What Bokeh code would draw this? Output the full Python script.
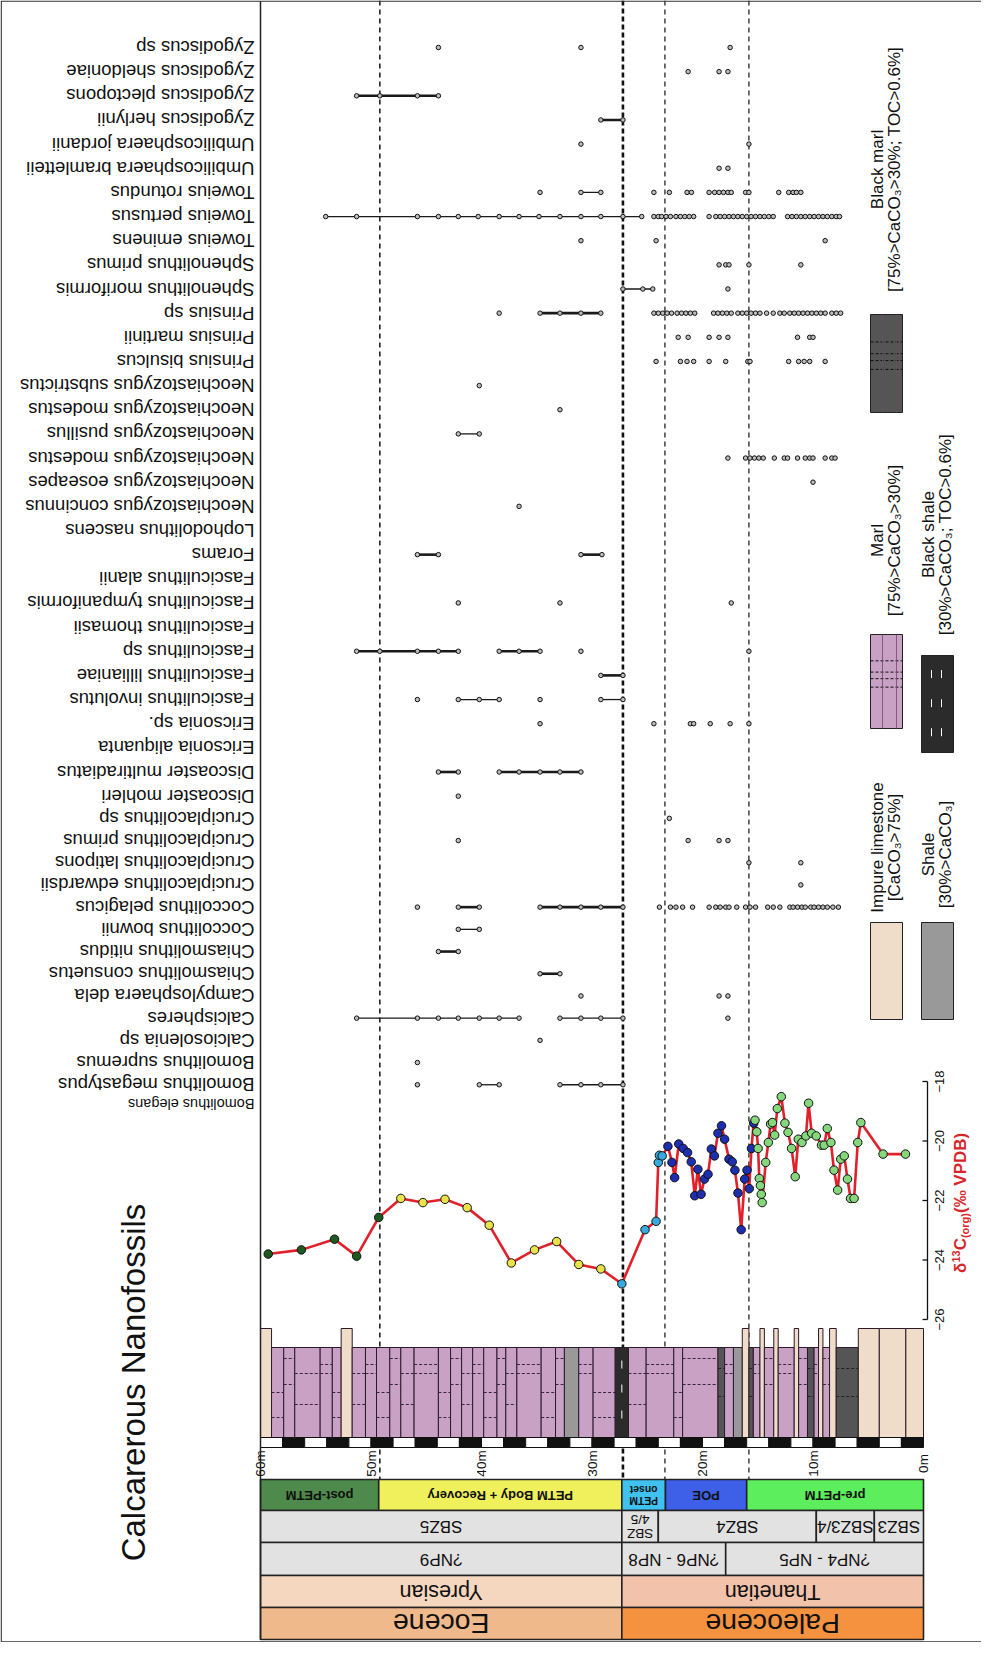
import numpy as np
from bokeh.plotting import figure
from bokeh.models import Range1d
from bokeh.core.properties import value
from bokeh.embed import file_html
from bokeh.resources import INLINE

# ---------------- DATA ----------------
SPECIES = ["Zygodiscus sp", "Zygodiscus sheldoniae", "Zygodiscus plectopons", "Zygodiscus herlynii",
           "Umbilicosphaera jordanii", "Umbilicosphaera bramletteii", "Toweius rotundus", "Toweius pertusus",
           "Toweius eminens", "Sphenolithus primus", "Sphenolithus moriformis", "Prinsius sp",
           "Prinsius martinii", "Prinsius bisulcus", "Neochiastozygus substrictus", "Neochiastozygus modestus",
           "Neochiastozygus pusillus", "Neochiastozygus modestus", "Neochiastozygus eoseapes",
           "Neochiastozygus concinnus", "Lophodolithus nascens", "Forams", "Fasciculithus alanii",
           "Fasciculithus tympaniformis", "Fasciculithus thomasii", "Fasciculithus sp",
           "Fasciculithus lillianiae", "Fasciculithus involutus", "Ericsonia sp.", "Ericsonia aliquanta",
           "Discoaster multiradiatus", "Discoaster mohleri", "Cruciplacolithus sp", "Cruciplacolithus primus",
           "Cruciplacolithus latipons", "Cruciplacolithus edwardsii", "Coccolithus pelagicus",
           "Coccolithus bownii", "Chiasmolithus nitidus", "Chiasmolithus consuetus", "Campylosphaera dela",
           "Calcispheres", "Calciosolenia sp", "Bomolithus supremus", "Bomolithus megastypus",
           "Bomolithus elegans"]

# occurrences: runs of consecutive samples (depth, m)
zygodiscus_sp = [[43.9], [31.0], [17.5]]
zygodiscus_sheldoniae = [[21.3], [18.5], [17.7]]
zygodiscus_plectopons = [[51.3, 49.2, 45.8, 43.9]]
zygodiscus_herlynii = [[29.2, 27.2]]
umbilicosphaera_jordanii = [[31.0], [15.8]]
umbilicosphaera_bramletteii = [[18.5], [17.7]]
toweius_rotundus = [[34.7], [31.0, 29.2], [24.4], [23.0], [21.4], [21.0], [19.4],
                    [18.9, 18.5, 18.1, 17.7, 17.4], [16.1], [15.8], [13.1], [12.2, 11.8, 11.5, 11.1]]
toweius_pertusus = [[54.1, 51.3, 45.8, 43.9, 42.1, 40.3, 38.4, 36.6, 34.8, 32.9, 31.0, 29.2, 27.2, 25.5],
                    [24.4, 24.0, 23.7, 23.3, 22.9], [22.4, 22.0, 21.6, 21.2, 20.8], [19.4],
                    [18.8, 18.4, 18.0, 17.6, 17.2], [16.8, 16.4, 16.0, 15.6, 15.2, 14.8], [14.4, 14.0, 13.6],
                    [12.3, 11.9, 11.5, 11.1, 10.7, 10.3, 9.9], [9.5, 9.1, 8.7, 8.3, 7.9, 7.6]]
toweius_eminens = [[31.0], [24.2], [8.9]]
sphenolithus_primus = [[18.5], [17.9], [17.6], [15.8], [11.1]]
sphenolithus_moriformis = [[27.2, 25.4, 24.5], [17.7]]
prinsius_sp = [[38.4], [34.7, 32.9, 31.0, 29.2], [24.4, 24.0, 23.6, 23.2, 22.8], [22.3, 21.9, 21.5, 21.1, 20.7],
               [19.0, 18.6, 18.2, 17.8, 17.4], [16.8, 16.4, 16.0, 15.6, 15.2, 14.8], [14.2], [13.6], [13.0, 12.6],
               [12.1, 11.7, 11.3, 10.9, 10.5, 10.1, 9.7, 9.3, 8.9], [8.3, 7.9, 7.5]]
prinsius_martinii = [[22.2], [21.3], [19.4], [18.5], [17.7], [11.4], [10.3], [10.0]]
prinsius_bisulcus = [[24.2], [22.0], [21.4], [20.8], [19.4], [17.9], [15.9], [15.7], [12.2], [11.3], [10.8],
                     [10.3], [8.9]]
neochiastozygus_substrictus = [[40.2]]
neochiastozygus_modestus_a = [[32.9]]
neochiastozygus_pusillus = [[42.1, 40.2]]
neochiastozygus_modestus_b = [[17.7], [16.1, 15.7, 15.3, 14.9, 14.5], [13.5], [12.6], [12.3], [11.4], [10.7],
                              [10.3], [10.0], [8.9], [8.3], [8.0]]
neochiastozygus_eoseapes = [[10.0]]
neochiastozygus_concinnus = [[36.6]]
lophodolithus_nascens = []
forams = [[45.8, 43.9], [31.0, 29.1]]
fasciculithus_alanii = []
fasciculithus_tympaniformis = [[42.1], [32.9], [17.4]]
fasciculithus_thomasii = []
fasciculithus_sp = [[51.3, 49.2, 45.8, 43.9, 42.1], [38.4, 36.6, 34.7], [31.0], [15.8]]
fasciculithus_lillianiae = [[29.2, 27.2]]
fasciculithus_involutus = [[45.8], [42.1, 40.2, 38.4], [34.7], [29.2, 27.2]]
ericsonia_sp = [[34.7], [24.4], [21.1], [20.8], [19.3], [17.5], [15.8]]
ericsonia_aliquanta = []
discoaster_multiradiatus = [[43.9, 42.1], [38.4, 36.6, 34.7, 32.9, 31.0]]
discoaster_mohleri = [[42.1]]
cruciplacolithus_sp = [[23.0]]
cruciplacolithus_primus = [[42.1], [21.3], [18.5], [17.7]]
cruciplacolithus_latipons = [[15.8], [11.1]]
cruciplacolithus_edwardsii = [[11.1]]
coccolithus_pelagicus = [[45.8], [42.1, 40.2], [34.7, 32.9, 31.0, 29.2, 27.2], [23.9], [22.9], [22.4], [21.8],
                         [20.9], [19.4], [18.8], [18.4], [17.9, 17.6], [16.9], [16.1], [15.7], [15.2], [14.1],
                         [13.6], [13.0], [12.1, 11.8, 11.4, 11.0, 10.7], [10.2, 9.9, 9.5, 9.1], [8.7], [8.2],
                         [7.7]]
coccolithus_bownii = [[42.1, 40.2]]
chiasmolithus_nitidus = [[43.9, 42.1]]
chiasmolithus_consuetus = [[34.7, 32.9]]
campylosphaera_dela = [[31.0], [18.5], [17.7]]
calcispheres = [[51.3, 45.8, 43.9, 42.1, 40.2, 38.4, 36.6], [32.9, 31.0, 29.2, 27.2], [17.7]]
calciosolenia_sp = [[34.7]]
bomolithus_supremus = [[45.8]]
bomolithus_megastypus = [[45.8], [40.2, 38.4], [32.9, 31.0, 29.2, 27.2]]
bomolithus_elegans = []

OCCURRENCES = [zygodiscus_sp, zygodiscus_sheldoniae, zygodiscus_plectopons, zygodiscus_herlynii,
               umbilicosphaera_jordanii, umbilicosphaera_bramletteii, toweius_rotundus, toweius_pertusus,
               toweius_eminens, sphenolithus_primus, sphenolithus_moriformis, prinsius_sp, prinsius_martinii,
               prinsius_bisulcus, neochiastozygus_substrictus, neochiastozygus_modestus_a,
               neochiastozygus_pusillus, neochiastozygus_modestus_b, neochiastozygus_eoseapes,
               neochiastozygus_concinnus, lophodolithus_nascens, forams, fasciculithus_alanii,
               fasciculithus_tympaniformis, fasciculithus_thomasii, fasciculithus_sp, fasciculithus_lillianiae,
               fasciculithus_involutus, ericsonia_sp, ericsonia_aliquanta, discoaster_multiradiatus,
               discoaster_mohleri, cruciplacolithus_sp, cruciplacolithus_primus, cruciplacolithus_latipons,
               cruciplacolithus_edwardsii, coccolithus_pelagicus, coccolithus_bownii, chiasmolithus_nitidus,
               chiasmolithus_consuetus, campylosphaera_dela, calcispheres, calciosolenia_sp,
               bomolithus_supremus, bomolithus_megastypus, bomolithus_elegans]

BOLD_SPECIES = {"Zygodiscus plectopons", "Zygodiscus herlynii", "Prinsius sp", "Forams", "Fasciculithus sp",
                "Fasciculithus lillianiae", "Discoaster multiradiatus", "Coccolithus pelagicus",
                "Chiasmolithus nitidus", "Chiasmolithus consuetus"}

# d13C org record
D13C_DEPTH = [59.3, 56.3, 53.3, 51.3, 49.3,
              47.3, 45.3, 43.3, 41.3, 39.3, 37.3, 35.2, 33.2, 31.2, 29.2,
              27.3, 25.2, 24.2, 24.0, 23.9, 23.65,
              23.13, 22.76, 22.52, 22.15, 21.75, 21.35, 21.02, 20.7, 20.42, 20.13, 19.82, 19.5, 19.2, 18.92,
              18.6, 18.28, 18.0, 17.6, 17.31, 17.07, 16.79, 16.5, 16.18, 15.97, 15.77, 15.57, 15.37,
              15.25, 15.09, 14.97, 14.86, 14.76, 14.68, 14.6, 14.28, 14.04, 13.84, 13.67, 13.47, 13.23, 12.87,
              12.54, 12.26, 11.94, 11.61, 11.33, 11.0, 10.64, 10.4, 10.12, 9.71, 9.23, 8.99, 8.71, 8.38, 8.1,
              7.77, 7.49, 7.17, 6.88, 6.6, 6.28, 5.95, 5.67, 3.66, 1.63]
D13C_VALUE = [-23.8, -23.66, -23.3, -23.87, -22.57,
              -21.93, -22.07, -21.96, -22.24, -22.83, -24.1, -23.66, -23.38, -24.15, -24.3,
              -24.8, -22.98, -22.7, -20.72, -20.48, -20.5,
              -20.18, -20.72, -21.23, -20.1, -20.25, -20.39, -20.7, -21.84, -20.95, -21.79, -21.28, -21.12,
              -20.27, -20.5, -19.74, -19.49, -19.94, -20.61, -20.7, -20.98, -21.75, -22.98, -21.28, -20.98,
              -21.6, -20.25, -19.4,
              -19.3, -19.69, -20.25, -21.26, -21.5, -21.79, -22.07, -20.72, -20.05, -19.43, -19.38, -19.8,
              -18.91, -18.51, -19.4, -19.71, -20.25, -21.2, -19.94, -20.05, -19.83, -18.73, -19.74, -19.83,
              -20.14, -20.14, -19.58, -20.05, -20.98, -21.65, -20.61, -20.5, -21.28, -21.93, -21.93, -20.05,
              -19.38, -20.44, -20.44]
D13C_PHASE = (["post-PETM"] * 5 + ["PETM Body + Recovery"] * 10 + ["PETM onset"] * 6 +
              ["POE"] * 27 + ["pre-PETM"] * 39)
D13C_TICKS = [-26, -24, -22, -20, -18]

# lithology beds (depth boundaries from 60 m to 0 m) and lithology codes
BED_BOUNDS = [60.0, 59.0, 57.9, 56.9, 54.6, 53.5, 52.7, 51.7, 50.5, 49.5, 48.3, 47.3, 46.1, 43.9, 42.8, 41.8,
              40.8, 39.8, 38.6, 37.8, 36.8, 34.6, 33.3, 32.5, 31.2, 29.9, 27.9, 26.7, 25.1, 22.6, 21.8, 18.6,
              18.0, 17.2, 16.4, 15.8, 15.4, 14.8, 14.4, 13.55, 13.15, 11.7, 11.3, 10.5, 9.9, 9.5, 9.1, 8.5,
              7.9, 5.9, 4.0, 1.6, 0.0]
BED_LITH = ["L", "M", "M", "M", "M", "M", "L", "M", "M", "M", "M", "M", "M", "M", "M", "M", "M", "M", "M",
            "M", "M", "M", "M", "S", "M", "M", "BS", "M", "M", "M", "M", "BM", "M", "S", "L", "BM", "M", "L",
            "M", "L", "M", "L", "M", "BM", "M", "L", "M", "L", "BM", "L", "L", "L"]

# zonations: (label, from depth, to depth)
PHASE_ZONES = [("post-PETM", 60.0, 49.3), ("PETM Body + Recovery", 49.3, 27.3), ("PETM\nonset", 27.3, 23.35),
               ("POE", 23.35, 16.0), ("pre-PETM", 16.0, 0.0)]
SBZ_ZONES = [("SBZ5", 60.0, 27.3), ("SBZ\n4/5", 27.3, 24.0), ("SBZ4", 24.0, 9.7), ("SBZ3/4", 9.7, 4.45),
             ("SBZ3", 4.45, 0.0)]
NP_ZONES = [("?NP9", 60.0, 27.3), ("?NP6 - NP8", 27.3, 17.9), ("?NP4 - NP5", 17.9, 0.0)]
STAGES = [("Ypresian", 60.0, 27.3), ("Thanetian", 27.3, 0.0)]
EPOCHS = [("Eocene", 60.0, 27.3), ("Paleocene", 27.3, 0.0)]

EVENT_LINES = [49.2, 27.2, 23.4, 15.8]
DEPTH_TICKS = [60, 50, 40, 30, 20, 10, 0]

# ---------------- LAYOUT ----------------
W, H = 981, 1642
PXM = 11.05          # px per metre
X60 = 268.0          # page x of 60 m


def X(px):
    return 60 + (X60 - px) / PXM


Y18, PXU = 1089.0, 29.75  # page y of -18 permil, px per permil
V_TOP = -18 + (Y18 - 8) / PXU
V_BOT = -18 - (8 + H - Y18) / PXU


def row_y(i):
    if i <= 31:
        return 55 + 24.15 * i
    if i <= 44:
        return 803.65 + (i - 31) * 22.2
    return 1111.0


FONT = value("Liberation Sans")
p = figure(width=W, height=H, x_range=Range1d(X(8), X(8 + W)), y_range=Range1d(8 + H, 8),
           output_backend="svg", toolbar_location=None, min_border=0, title=None,
           x_axis_location=None, y_axis_location=None)
p.extra_y_ranges = {"d13c": Range1d(V_BOT, V_TOP)}
p.grid.visible = False
p.outline_line_color = None
p.background_fill_color = "white"
p.border_fill_color = "white"

# event dashed lines
for d, w, dash in zip(EVENT_LINES, [1.5, 2.6, 1.2, 1.2], ["5 4", "5 3", "5 4", "5 4"]):
    p.segment(x0=[d], y0=[8], x1=[d], y1=[1487], line_color="#111111", line_width=w, line_dash=dash)

# species occurrences
for i, (name, runs) in enumerate(zip(SPECIES, OCCURRENCES)):
    yy = row_y(i)
    lw = 2.6 if name in BOLD_SPECIES else 1.3
    xs = [r for r in runs if len(r) > 1]
    if xs:
        p.multi_line(xs=xs, ys=[[yy] * len(r) for r in xs], line_color="#1a1a1a", line_width=lw)
    pts = [d for r in runs for d in r]
    if pts:
        p.scatter(x=pts, y=[yy] * len(pts), marker="circle", size=4.5, fill_color="#bdbdbd",
                  line_color="#111111", line_width=1)

# species labels (upside down)
p.text(x=[X(262)] * (len(SPECIES) - 1), y=[row_y(i) for i in range(len(SPECIES) - 1)],
       text=SPECIES[:-1], angle=np.pi, text_align="left", text_baseline="middle",
       text_font=FONT, text_font_size="18.5px", text_color="#111111")
p.text(x=[X(262)], y=[row_y(len(SPECIES) - 1)], text=[SPECIES[-1]], angle=np.pi, text_align="left",
       text_baseline="middle", text_font=FONT, text_font_size="14.5px", text_color="#111111")

# d13C curve
PHASE_COLORS = {"post-PETM": "#1d5a22", "PETM Body + Recovery": "#e9e24a", "PETM onset": "#38a9dc",
                "POE": "#1d2fae", "pre-PETM": "#86d67c"}
p.line(x=D13C_DEPTH, y=D13C_VALUE, y_range_name="d13c", line_color="#e0202a", line_width=2.6)
p.scatter(x=D13C_DEPTH, y=D13C_VALUE, y_range_name="d13c", marker="circle", size=8.5,
          fill_color=[PHASE_COLORS[k] for k in D13C_PHASE], line_color="#111111", line_width=1)

# d13C axis
ax = X(935)
p.segment(x0=[ax], y0=[D13C_TICKS[0]], x1=[ax], y1=[D13C_TICKS[-1]], y_range_name="d13c",
          line_color="#111111", line_width=1.3)
p.segment(x0=[ax] * len(D13C_TICKS), y0=D13C_TICKS, x1=[X(930)] * len(D13C_TICKS), y1=D13C_TICKS,
          y_range_name="d13c", line_color="#111111", line_width=1.3)
p.text(x=[X(947)] * len(D13C_TICKS), y=D13C_TICKS, y_range_name="d13c",
       text=["\u2212%d" % abs(t) for t in D13C_TICKS], angle=np.pi / 2, text_align="center",
       text_baseline="middle", text_font=FONT, text_font_size="13px", text_color="#111111")

# axis title with super/subscripts, reading bottom-to-top
RED = "#d7262b"
pieces = [("\u03b4", 17, 0, 0.611), ("13", 11, -5, 1.112), ("C", 17, 0, 0.722), ("(org)", 11, 4, 2.277),
          (" (\u2030 VPDB)", 17, 0, 5.0)]
total = sum(fs * w for _, fs, _, w in pieces)
ycur = 1208 + total / 2
for txt, fs, off, wem in pieces:
    p.text(x=[X(968 + off)], y=[ycur], text=[txt], angle=np.pi / 2, text_align="left", text_baseline="middle",
           text_font=FONT, text_font_size="%dpx" % fs, text_font_style="bold", text_color=RED)
    ycur -= fs * wem

# lithology column
LITH_COLOR = {"L": "#efdcc9", "M": "#c9a1c5", "S": "#999999", "BS": "#2b2b2b", "BM": "#555555"}
tops = {"L": 1336}
for k, lith in enumerate(BED_LITH):
    d0, d1 = BED_BOUNDS[k], BED_BOUNDS[k + 1]
    top = tops.get(lith, 1355)
    p.quad(left=[d0], right=[d1], top=[top], bottom=[1445], fill_color=LITH_COLOR[lith],
           line_color="#2a1a2a", line_width=1)
    if lith == "M":
        levels = [(1372, 1381), (1400, 1425), (1366, 1392), (1381, 1412)][k % 4]
        for lv in levels:
            p.segment(x0=[d0], y0=[lv], x1=[d1], y1=[lv], line_color="#3a2540", line_width=1, line_dash="3 2")
    elif lith == "BS":
        mid = (d0 + d1) / 2
        for lv in (1368, 1392, 1418):
            p.segment(x0=[mid], y0=[lv], x1=[mid], y1=[lv + 8], line_color="white", line_width=1)
    elif lith == "BM":
        for lv in (1376, 1404):
            p.segment(x0=[d0], y0=[lv], x1=[d1], y1=[lv], line_color="#222222", line_width=1, line_dash="3 2")

# depth scale bar
blocks = list(range(60, 0, -2))
p.quad(left=blocks, right=[b - 2 for b in blocks], top=[1445] * len(blocks), bottom=[1455] * len(blocks),
       fill_color=["white" if j % 2 == 0 else "#111111" for j in range(len(blocks))],
       line_color="#111111", line_width=1)
p.text(x=DEPTH_TICKS, y=[1471] * len(DEPTH_TICKS), text=["%dm" % t for t in DEPTH_TICKS], angle=np.pi / 2,
       text_align="center", text_baseline="middle", text_font=FONT, text_font_size="13.5px",
       text_color="#111111")


def band(zones, y0, y1, colors, size, bold=False):
    for (lab, d0, d1), col in zip(zones, colors):
        p.quad(left=[d0], right=[d1], top=[y0], bottom=[y1], fill_color=col, line_color="#222222",
               line_width=1.6)
        lines = lab.split("\n")
        fs = size if len(lines) == 1 else size * 0.8
        lh = fs * 1.0
        n = len(lines)
        cy = (y0 + y1) / 2
        for k, ln in enumerate(lines):
            p.text(x=[(d0 + d1) / 2], y=[cy + ((n - 1) / 2 - k) * lh], text=[ln], angle=np.pi,
                   text_align="center", text_baseline="middle", text_font=FONT, text_font_size="%.1fpx" % fs,
                   text_font_style="bold" if bold else "normal", text_color="#111111")


band(PHASE_ZONES, 1487, 1518, ["#4d8a4b", "#eff05c", "#3fc2f0", "#3e5fe8", "#5cee5c"], 13, bold=True)
band(SBZ_ZONES, 1518, 1550, ["#e2e2e2"] * 5, 17)
band(NP_ZONES, 1550, 1583, ["#e2e2e2"] * 3, 17)
band(STAGES, 1583, 1615, ["#f5d7c0", "#f2c3aa"], 21.5)
band(EPOCHS, 1615, 1647, ["#f0b98c", "#f5923f"], 28.5)

# legend
LEGEND = [("L", "Impure limestone", "[CaCO\u2083>75%]", 878, 930, 1027, 855),
          ("M", "Marl", "[75%>CaCO\u2083>30%]", 878, 642, 736, 548),
          ("BM", "Black marl", "[75%>CaCO\u2083>30%; TOC>0.6%]", 878, 322, 420, 177),
          ("S", "Shale", "[30%>CaCO\u2083]", 929, 930, 1027, 862),
          ("BS", "Black shale", "[30%>CaCO\u2083; TOC>0.6%]", 929, 663, 760, 542)]
for lith, l1, l2, x0, ya, yb, ty in LEGEND:
    p.quad(left=[X(x0)], right=[X(x0 + 32)], top=[ya], bottom=[yb], fill_color=LITH_COLOR[lith],
           line_color="#222222", line_width=1)
    if lith in ("M", "BM"):
        for f in (0.28, 0.4, 0.47, 0.56):
            lv = ya + (yb - ya) * f
            p.segment(x0=[X(x0)], y0=[lv], x1=[X(x0 + 32)], y1=[lv],
                      line_color="#111111", line_width=1, line_dash="3 2")
        for fx in (12, 26):
            p.segment(x0=[X(x0 + fx)], y0=[ya], x1=[X(x0 + fx)], y1=[yb], line_color="#6a4a6a", line_width=0.8)
    if lith == "BS":
        for fx in (10, 20):
            for f in (0.15, 0.45, 0.75):
                lv = ya + (yb - ya) * f
                p.segment(x0=[X(x0 + fx)], y0=[lv], x1=[X(x0 + fx)], y1=[lv + 8], line_color="white",
                          line_width=1)
    p.text(x=[X(x0 + 7)], y=[ty], text=[l1], angle=np.pi / 2, text_align="center", text_baseline="middle",
           text_font=FONT, text_font_size="17px", text_color="#111111")
    p.text(x=[X(x0 + 24)], y=[ty], text=[l2], angle=np.pi / 2, text_align="center", text_baseline="middle",
           text_font=FONT, text_font_size="17px", text_color="#111111")

# title
p.text(x=[X(141)], y=[1390], text=["Calcarerous Nanofossils"], angle=np.pi / 2, text_align="center",
       text_baseline="middle", text_font=FONT, text_font_size="33px", text_color="#111111")

# frames
p.segment(x0=[X(268)], y0=[8.5], x1=[X(268)], y1=[1647], line_color="#222222", line_width=1.5)
p.quad(left=[X(8.7)], right=[X(989.5)], top=[8.7], bottom=[1649.3], fill_color=None,
       line_color="#333333", line_width=1.3)

open("out.html", "w").write(file_html(p, INLINE))
